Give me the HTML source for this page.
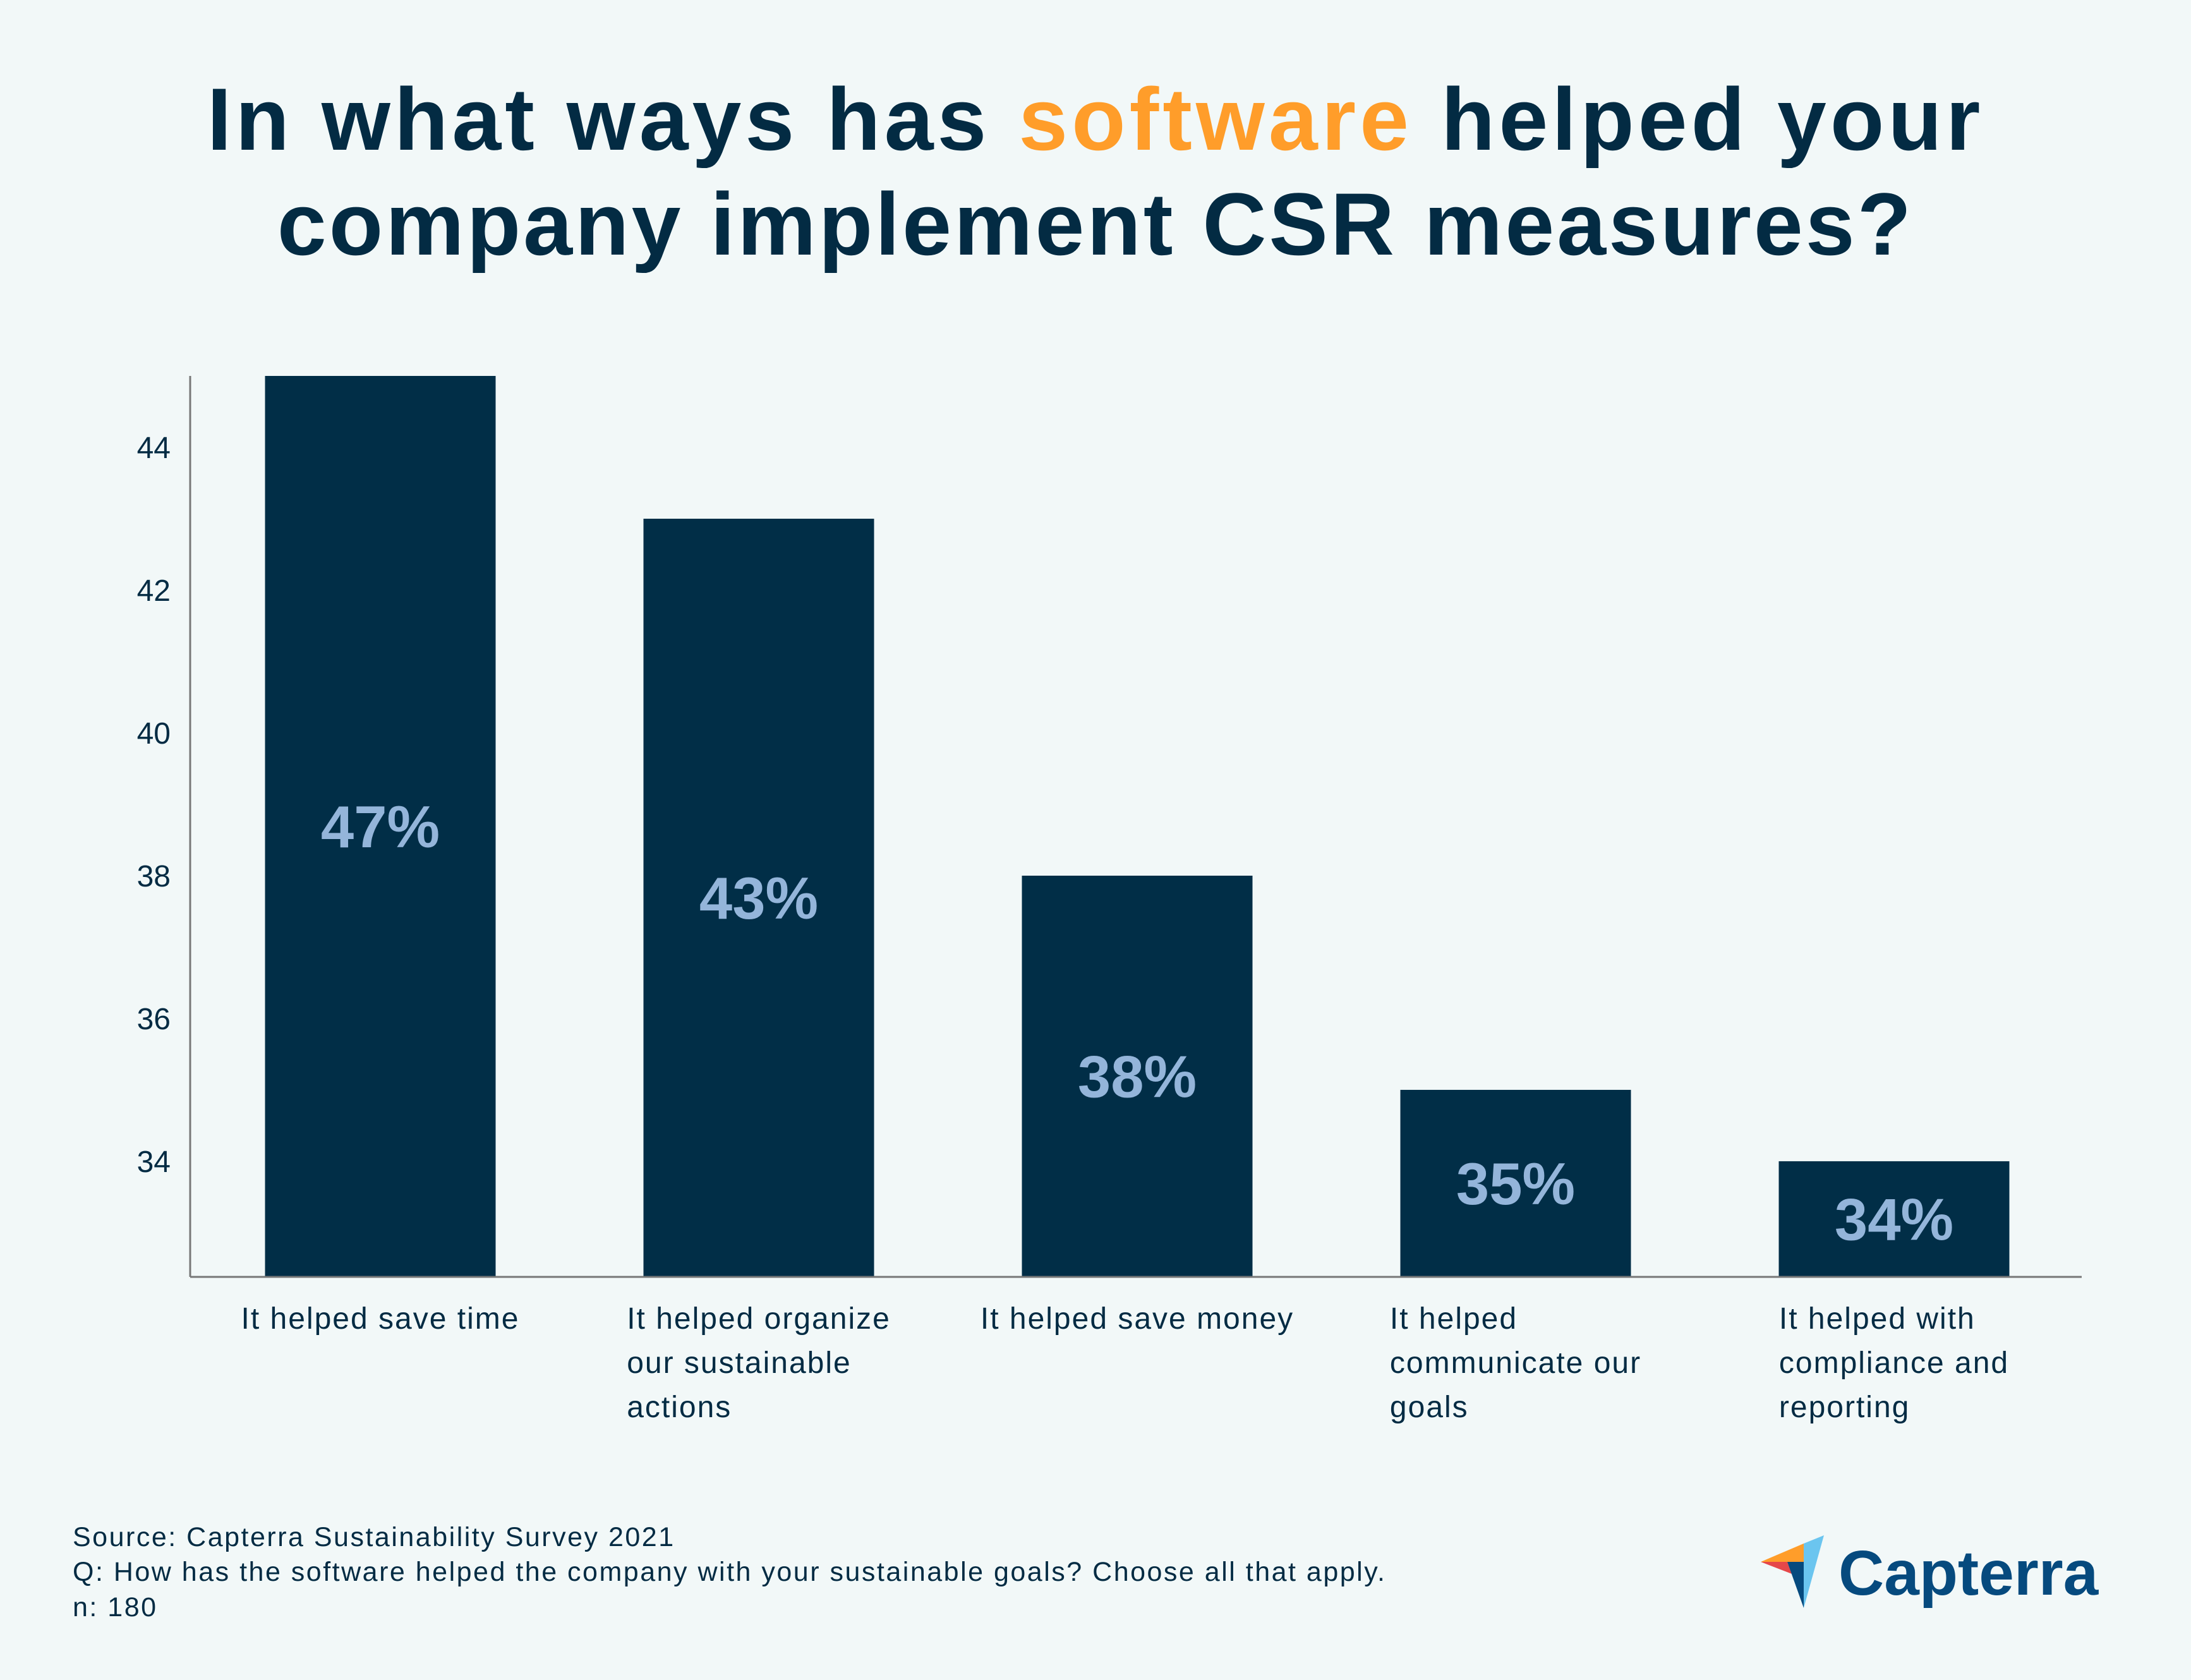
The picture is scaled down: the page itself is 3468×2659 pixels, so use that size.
<!DOCTYPE html>
<html><head><meta charset="utf-8"><style>
html,body{margin:0;padding:0;background:#f2f8f8;}
svg{display:block;font-family:"Liberation Sans",sans-serif;}
</style></head><body>
<svg id="chart" width="3468" height="2659" viewBox="0 0 3468 2659">
<rect width="3468" height="2659" fill="#f2f8f8"/>
<g font-weight="bold" font-size="140" fill="#032b43" text-anchor="middle">
<text x="1734" y="237" letter-spacing="6">In what ways has <tspan fill="#ff9d2a">software</tspan> helped your</text>
<text x="1734" y="403" letter-spacing="4">company implement CSR measures?</text>
</g>
<g id="plot"></g>
<g font-size="43" fill="#032b43" letter-spacing="2.5">
<text x="115" y="2447">Source: Capterra Sustainability Survey 2021</text>
<text x="115" y="2502">Q: How has the software helped the company with your sustainable goals? Choose all that apply.</text>
<text x="115" y="2558">n: 180</text>
</g>
<g>
<polygon points="2787,2472 2855,2443 2855,2472" fill="#ff9d2a"/>
<polygon points="2787,2472 2829,2472 2836,2491" fill="#e5484a"/>
<polygon points="2829,2472 2855,2472 2855,2545" fill="#064a7e"/>
<polygon points="2855,2443 2887,2430 2855,2545" fill="#6bc5ef"/>
<text x="2910" y="2524" font-size="100" font-weight="bold" fill="#064a7e">Capterra</text>
</g>
</svg>
<script>
const categories = [["It helped save time"],["It helped organize","our sustainable","actions"],["It helped save money"],["It helped","communicate our","goals"],["It helped with","compliance and","reporting"]];
const values = [47,43,38,35,34];
const valueLabels = ["47%","43%","38%","35%","34%"];
const yTicks = [34,36,38,40,42,44];
const NS="http://www.w3.org/2000/svg";
const plotG=document.getElementById('plot');
const axX=301, plotTop=595, plotBottom=2021, plotRight=3295;
const yMin=32.38, yMax=45;
function yScale(v){return plotBottom-(v-yMin)/(yMax-yMin)*(plotBottom-plotTop);}
const step=599, first=602, bw=365;
function xc(i){return first+i*step;}
function mk(tag,attrs,parent){const e=document.createElementNS(NS,tag);for(const k in attrs)e.setAttribute(k,attrs[k]);(parent||plotG).appendChild(e);return e;}
yTicks.forEach(t=>{
 const e=mk('text',{x:270,y:yScale(t)+17,'text-anchor':'end','font-size':48,fill:'#032b43'});
 
 
 e.textContent=t;
});
values.forEach((v,i)=>{
 const vt=yScale(Math.min(v,yMax));
 const r=mk('rect',{x:xc(i)-bw/2,y:vt,width:bw,height:plotBottom-vt,fill:'#012e47'});
 
 
 const t=mk('text',{x:xc(i),y:(vt+plotBottom)/2+33,'text-anchor':'middle','font-size':94,'font-weight':'bold',fill:'#94b5da'});
 
 
 t.textContent=valueLabels[i];
 const g=mk('g',{});
 
 
 const lines=categories[i];
 const tmp=[];let maxW=0;
 lines.forEach((ln,j)=>{const tx=mk('text',{x:0,y:2103+j*70,'font-size':48,'letter-spacing':2,fill:'#032b43'},g);tx.textContent=ln;tmp.push(tx);});
 tmp.forEach(tx=>{maxW=Math.max(maxW,tx.getComputedTextLength());});
 tmp.forEach(tx=>tx.setAttribute('x',xc(i)-maxW/2));
});
const ya=mk('line',{x1:axX,y1:plotTop,x2:axX,y2:plotBottom,stroke:'#777',"stroke-width":3});


const xa=mk('line',{x1:axX,y1:plotBottom,x2:plotRight,y2:plotBottom,stroke:'#777',"stroke-width":3});


</script>
</body></html>
